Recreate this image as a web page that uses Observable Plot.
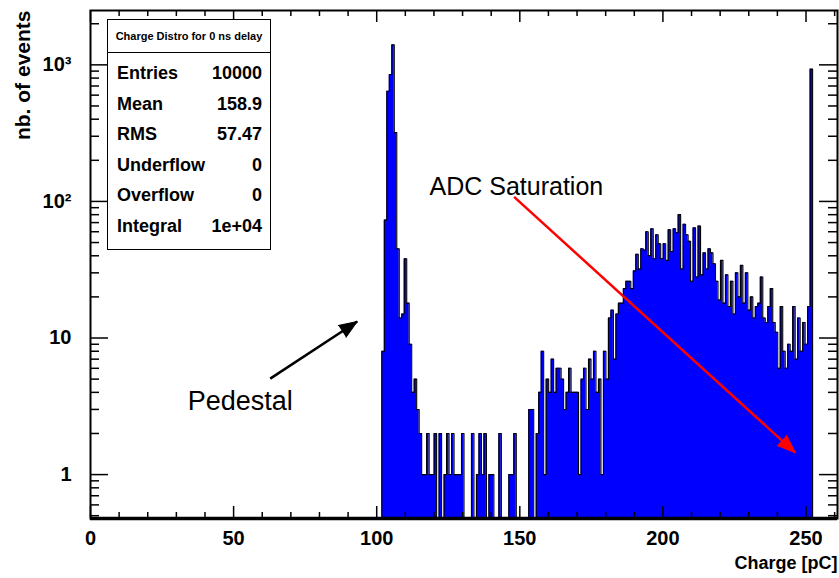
<!DOCTYPE html>
<html><head><meta charset="utf-8">
<script src="https://cdn.jsdelivr.net/npm/d3@7"></script>
<script src="https://cdn.jsdelivr.net/npm/@observablehq/plot@0.6"></script>
<style>
body{margin:0;background:#fff;}
#wrap{position:relative;width:839px;height:578px;font-family:"Liberation Sans",Arial,Helvetica,sans-serif;}
#stats{position:absolute;left:107px;top:19px;width:164px;height:231px;border:1.5px solid #000;background:#fff;box-sizing:border-box;font-weight:bold;color:#000;}
#stats .hd{position:absolute;left:0;right:0;top:0;height:32px;border-bottom:1.5px solid #000;font-size:11px;line-height:32px;text-align:center;white-space:nowrap;}
#stats .row{position:absolute;left:9px;right:8px;height:30px;line-height:30px;font-size:18px;}
#stats .row .v{position:absolute;right:0;top:0;}
</style></head>
<body><div id="wrap"></div>
<script>
// histogram definition
const histRange = [0, 261];
const nBins = 300;
const firstBin = 117;
// bin contents for bins 117..289
const counts = [
  8, 73, 640, 850, 1400, 320, 45, 14, 15, 38, 18, 9, 4, 5, 3, 2,
  1, 1, 2, 1, 1, 2, 0, 2, 0, 1, 2, 1, 2, 1, 1, 1, 2, 0, 0, 0, 2, 0,
  1, 2, 1, 2, 0, 1, 1, 0, 0, 2, 0, 0, 0, 1, 1, 2, 0, 0, 0, 0, 0,
  3, 3, 0, 2, 4, 8, 1, 5, 4, 7, 4, 6, 6, 5, 3, 4, 6, 4, 4, 4, 1, 5, 6, 3, 7, 5, 8, 4, 5, 1, 8, 5,
  14, 16, 7, 15, 18, 18, 23, 26, 26, 23, 31, 41, 32, 45, 44, 60, 40, 63, 38, 57, 49, 38, 49, 37,
  62, 43, 63, 59, 80, 32, 68, 57, 51, 26, 64, 28, 66, 29, 42, 32, 45, 42, 35, 26, 19, 37, 18, 29,
  17, 26, 15, 30, 20, 34, 18, 30, 16, 20, 14, 17, 18, 28, 14, 13, 17, 23, 13, 11, 6, 17, 8, 6, 9,
  8, 17, 7, 14, 8, 13, 9, 17, 930
];
const xDomain = [0, 261];
const yDomain = [0.477, 2500];
const xMajor = [0, 50, 100, 150, 200, 250];
const xMinor = [10, 20, 30, 40, 60, 70, 80, 90, 110, 120, 130, 140, 160, 170, 180, 190, 210, 220, 230, 240, 260];
const yMajor = [1, 10, 100, 1000];
const yMinor = [0.5, 0.6, 0.7, 0.8, 0.9, 2, 3, 4, 5, 6, 7, 8, 9, 20, 30, 40, 50, 60, 70, 80, 90, 200, 300, 400, 500, 600, 700, 800, 900, 2000];
const yTickLabels = ["1", "10", "10\u00b2", "10\u00b3"];
const xTitle = "Charge [pC]";
const yTitle = "nb. of events";
const statsTitle = "Charge Distro for 0 ns delay";
const statsNames = ["Entries", "Mean", "RMS", "Underflow", "Overflow", "Integral"];
const statsValues = ["10000", "158.9", "57.47", "0", "0", "1e+04"];
const noteTexts = ["ADC Saturation", "Pedestal"];
const noteSizes = [25, 27];
const noteX = [148.8, 52.3];
const noteY = [128, 3.45];
const arrowFromX = [148.0, 62.8];
const arrowFromY = [108, 5.04];
const arrowToX = [246.2, 93.2];
const arrowToY = [1.45, 13.2];
const arrowColors = ["#ff0000", "#000000"];

const bw = (histRange[1] - histRange[0]) / nBins;
const edges = [{x: histRange[0] + firstBin * bw, y: yDomain[0]}];
counts.forEach((c, i) => edges.push({x: histRange[0] + (firstBin + i) * bw, y: Math.max(c, yDomain[0])}));
edges.push({x: histRange[0] + (firstBin + counts.length) * bw, y: yDomain[0]});

const notes = noteTexts.map((t, i) => ({t, x: noteX[i], y: noteY[i], s: noteSizes[i]}));
const arrows = arrowColors.map((c, i) => ({x1: arrowFromX[i], y1: arrowFromY[i], x2: arrowToX[i], y2: arrowToY[i], c}));
const arrowAngles = [132.3, 56.8];

const W = 839, H = 578, mL = 90, mR = 2, mT = 10, mB = 60;
const fw = W - mL - mR, fh = H - mT - mB;

const chart = Plot.plot({
  width: W, height: H,
  marginLeft: mL, marginRight: mR, marginTop: mT, marginBottom: mB,
  x: {domain: xDomain},
  y: {type: "log", domain: yDomain},
  style: {fontFamily: "'Liberation Sans', Arial, Helvetica, sans-serif", background: "#fff", color: "#000"},
  marks: [
    Plot.areaY(edges, {x: "x", y1: yDomain[0], y2: "y", curve: "step-after", fill: "#0000ff"}),
    Plot.line(edges, {x: "x", y: "y", curve: "step-after", stroke: "#000", strokeWidth: 1.1}),
    Plot.ruleX(xMajor, {x: d => d, insetTop: fh - 12, stroke: "#000", strokeWidth: 1.5}),
    Plot.ruleX(xMinor, {x: d => d, insetTop: fh - 6, stroke: "#000", strokeWidth: 1.5}),
    Plot.ruleX(xMajor, {x: d => d, insetBottom: fh - 12, stroke: "#000", strokeWidth: 1.5}),
    Plot.ruleX(xMinor, {x: d => d, insetBottom: fh - 6, stroke: "#000", strokeWidth: 1.5}),
    Plot.ruleY(yMajor, {y: d => d, insetRight: fw - 18, stroke: "#000", strokeWidth: 1.5}),
    Plot.ruleY(yMinor, {y: d => d, insetRight: fw - 9, stroke: "#000", strokeWidth: 1.5}),
    Plot.ruleY(yMajor, {y: d => d, insetLeft: fw - 18, stroke: "#000", strokeWidth: 1.5}),
    Plot.ruleY(yMinor, {y: d => d, insetLeft: fw - 9, stroke: "#000", strokeWidth: 1.5}),
    Plot.frame({stroke: "#000", strokeWidth: 2}),
    Plot.ruleY([yDomain[0]], {stroke: "#000", strokeWidth: 3.5}),
    Plot.axisX(xMajor, {tickSize: 0, tickPadding: 12, fontSize: 20, fontWeight: "bold", label: null, tickFormat: d => String(d)}),
    Plot.axisY(yMajor, {tickSize: 0, tickPadding: 19, fontSize: 20, fontWeight: "bold", label: null, tickFormat: d => yTickLabels[yMajor.indexOf(d)]}),
    Plot.text([xTitle], {frameAnchor: "bottom-right", textAnchor: "end", dy: 50, fontSize: 18, fontWeight: "bold"}),
    Plot.text([yTitle], {frameAnchor: "top-left", textAnchor: "end", rotate: -90, dx: -75, dy: 0, fontSize: 21, fontWeight: "bold"}),
    Plot.text(notes, {x: "x", y: "y", text: "t", fontSize: "s", fill: "#000"}),
    Plot.link(arrows, {x1: "x1", y1: "y1", x2: "x2", y2: "y2", stroke: "c", strokeWidth: 2.5}),
    Plot.vector(arrows, {x: "x2", y: "y2", rotate: (d, i) => arrowAngles[i], length: 18, r: 7, anchor: "end", shape: "spike", fill: "c", stroke: "c", strokeWidth: 1})
  ]
});

const wrap = document.getElementById("wrap");
wrap.appendChild(chart);
const box = document.createElement("div");
box.id = "stats";
const hd = document.createElement("div");
hd.className = "hd"; hd.textContent = statsTitle;
box.appendChild(hd);
statsNames.forEach((n, i) => {
  const r = document.createElement("div");
  r.className = "row";
  r.style.top = (38 + i * 30.5) + "px";
  const a = document.createElement("span"); a.textContent = n;
  const b = document.createElement("span"); b.className = "v"; b.textContent = statsValues[i];
  r.appendChild(a); r.appendChild(b);
  box.appendChild(r);
});
wrap.appendChild(box);
</script>
</body></html>
